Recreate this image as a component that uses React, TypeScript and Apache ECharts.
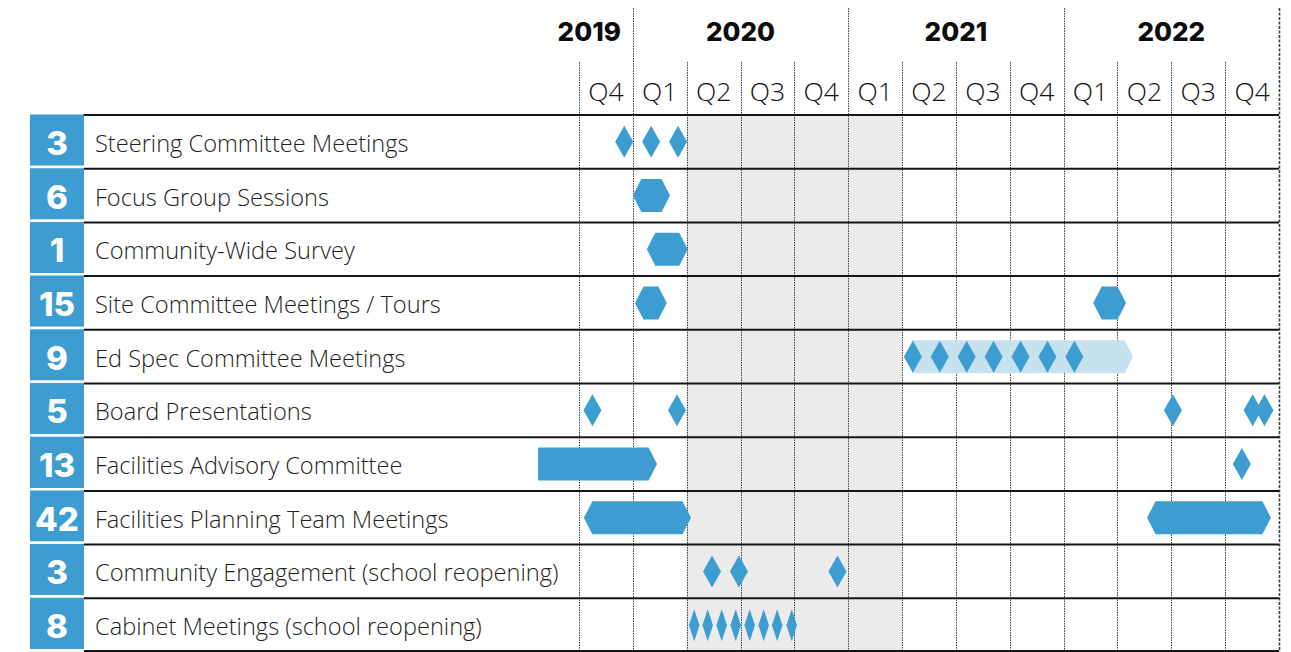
import React, { useEffect, useRef } from "react";
import * as echarts from "echarts";

// ---------- data ----------
const activities = [
  "Steering Committee Meetings",
  "Focus Group Sessions",
  "Community-Wide Survey",
  "Site Committee Meetings / Tours",
  "Ed Spec Committee Meetings",
  "Board Presentations",
  "Facilities Advisory Committee",
  "Facilities Planning Team Meetings",
  "Community Engagement (school reopening)",
  "Cabinet Meetings (school reopening)",
];
const meetingCounts = [3, 6, 1, 15, 9, 5, 13, 42, 3, 8];

// quarter index 0 = Q4 2019 ... 12 = Q4 2022
const quarterLabels = ["Q4", "Q1", "Q2", "Q3", "Q4", "Q1", "Q2", "Q3", "Q4", "Q1", "Q2", "Q3", "Q4"];
const yearLabels = ["2019", "2020", "2021", "2022"];
const yearStarts = [0, 1, 5, 9];
const yearEnds = [1, 5, 9, 13];
const shadedPeriod = [2, 6];

// single meetings: [row, position in quarters]
const meetingDiamonds = [
  [0, 0.84], [0, 1.34], [0, 1.84],
  [4, 6.2], [4, 6.7], [4, 7.2], [4, 7.7], [4, 8.2], [4, 8.7], [4, 9.2],
  [5, 0.25], [5, 1.82], [5, 11.03], [5, 12.51], [5, 12.73],
  [6, 12.31],
  [8, 2.47], [8, 2.97], [8, 4.8],
  [9, 2.14], [9, 2.39], [9, 2.65], [9, 2.91], [9, 3.17], [9, 3.43], [9, 3.68], [9, 3.95],
];
// meeting series: [row, start, end]
const hexSpans = [
  [1, 1.0, 1.69],
  [2, 1.26, 2.02],
  [3, 1.04, 1.63],
  [3, 9.55, 10.16],
  [7, 0.09, 2.08],
  [7, 10.55, 12.85],
];
const arrowSpans = [[6, -0.76, 1.45]];
const plannedSpans = [[4, 6.18, 10.29]];

// ---------- styles ----------
const BLUE = "#3d9dd1";
const LIGHT_BLUE = "#c6e2ef";
const SHADE = "#ebebeb";
const LINE_DARK = "#141414";
const DOT = "#34434e";
const LABEL_FONT = "'Open Sans', sans-serif";
const BOLD_FONT = "Inter, 'Open Sans', sans-serif";
const MARK_H = 33;
const TIP = 8.5;

export default function App() {
  const ref = useRef<HTMLDivElement>(null);

  useEffect(() => {
    if (!ref.current) return;
    const chart = echarts.init(ref.current, undefined, { renderer: "svg" });
    const nRows = activities.length;
    const nQ = quarterLabels.length;

    const bandInfo = (api: any, row: number) => {
      const cy = api.coord([0, row])[1];
      const bh = api.size([0, 1])[1];
      return { cy, bh };
    };

    const option: any = {
      animation: false,
      backgroundColor: "#ffffff",
      grid: { left: 579, right: 12, top: 115, bottom: 0, containLabel: false },
      xAxis: {
        type: "value",
        min: 0,
        max: nQ,
        interval: 1,
        show: false,
      },
      yAxis: {
        type: "category",
        data: activities,
        inverse: true,
        show: false,
      },
      series: [
        // shaded period
        {
          type: "custom",
          z: 1,
          silent: true,
          clip: false,
          data: [[shadedPeriod[0], shadedPeriod[1], 0]],
          encode: { x: [0, 1], y: 2 },
          renderItem: (params: any, api: any) => {
            const x0 = api.coord([api.value(0), 0])[0];
            const x1 = api.coord([api.value(1), 0])[0];
            const { cy: c0, bh } = bandInfo(api, 0);
            const c9 = api.coord([0, nRows - 1])[1];
            return {
              type: "rect",
              shape: { x: x0, y: c0 - bh / 2, width: x1 - x0, height: c9 + bh / 2 - (c0 - bh / 2) },
              style: { fill: SHADE },
            };
          },
        },
        // vertical quarter / year lines
        {
          type: "custom",
          z: 2,
          silent: true,
          clip: false,
          data: Array.from({ length: nQ + 1 }, (_, k) => [k, 0]),
          encode: { x: 0, y: 1 },
          renderItem: (params: any, api: any) => {
            const k = api.value(0);
            const x = Math.round(api.coord([k, 0])[0]) + 0.5;
            const bh = api.size([0, 1])[1];
            const bottom = api.coord([0, nRows - 1])[1] + bh / 2;
            const isYear = yearEnds.indexOf(k) >= 0;
            const isEdge = k === nQ;
            return {
              type: "line",
              shape: { x1: x, y1: isYear ? 8 : 62, x2: x, y2: bottom },
              style: {
                stroke: DOT,
                lineWidth: isEdge ? 1.6 : 1,
                lineDash: isEdge ? [3, 1.5] : [1.5, 1],
              },
            };
          },
        },
        // horizontal row lines
        {
          type: "custom",
          z: 3,
          silent: true,
          clip: false,
          data: Array.from({ length: nRows + 1 }, (_, k) => [0, Math.min(k, nRows - 1), k]),
          encode: { x: 0, y: 1 },
          renderItem: (params: any, api: any) => {
            const k = params.dataIndex;
            const bh = api.size([0, 1])[1];
            const top = api.coord([0, 0])[1] - bh / 2;
            let y = top + k * bh;
            if (k === nRows) y -= 1;
            const xEnd = api.coord([nQ, 0])[0];
            return {
              type: "line",
              shape: { x1: 83, y1: y, x2: xEnd, y2: y },
              style: { stroke: LINE_DARK, lineWidth: 2 },
            };
          },
        },
        // left count boxes and activity labels
        {
          type: "custom",
          z: 4,
          silent: true,
          clip: false,
          data: activities.map((_, i) => [0, i]),
          encode: { x: 0, y: 1 },
          renderItem: (params: any, api: any) => {
            const i = params.dataIndex;
            const { cy, bh } = bandInfo(api, api.value(1));
            const top = cy - bh / 2;
            return {
              type: "group",
              children: [
                {
                  type: "rect",
                  shape: { x: 30, y: top - 0.5, width: 54, height: bh - 2.5 },
                  style: { fill: BLUE },
                },
                {
                  type: "rect",
                  shape: { x: 30, y: top + bh - 3, width: 54, height: 3 },
                  style: { fill: "#ffffff" },
                },
                {
                  type: "text",
                  style: {
                    text: String(meetingCounts[i]),
                    x: 57,
                    y: cy + 1,
                    align: "center",
                    verticalAlign: "middle",
                    fill: "#ffffff",
                    fontFamily: BOLD_FONT,
                    fontWeight: 800,
                    fontSize: 33,
                  },
                },
                {
                  type: "text",
                  style: {
                    text: activities[i],
                    x: 95,
                    y: cy + 1,
                    align: "left",
                    verticalAlign: "middle",
                    fill: "#231f20",
                    fontFamily: LABEL_FONT,
                    fontWeight: 300,
                    fontSize: 23.6,
                  },
                },
              ],
            };
          },
        },
        // quarter labels
        {
          type: "custom",
          z: 4,
          silent: true,
          clip: false,
          data: quarterLabels.map((_, k) => [k + 0.5, 0]),
          encode: { x: 0, y: 1 },
          renderItem: (params: any, api: any) => {
            const x = api.coord([api.value(0), 0])[0];
            return {
              type: "text",
              style: {
                text: quarterLabels[params.dataIndex],
                x: x,
                y: 91,
                align: "center",
                verticalAlign: "middle",
                fill: "#111111",
                fontFamily: LABEL_FONT,
                fontWeight: 300,
                fontSize: 26.5,
              },
            };
          },
        },
        // year labels
        {
          type: "custom",
          z: 4,
          silent: true,
          clip: false,
          data: yearLabels.map((_, k) => [yearStarts[k], yearEnds[k], 0]),
          encode: { x: [0, 1], y: 2 },
          renderItem: (params: any, api: any) => {
            const s = api.value(0);
            const e = api.value(1);
            const xs = api.coord([s, 0])[0];
            const xe = api.coord([e, 0])[0];
            const single = e - s <= 1;
            return {
              type: "text",
              style: {
                text: yearLabels[params.dataIndex],
                x: single ? xe - 12 : (xs + xe) / 2,
                y: 31,
                align: single ? "right" : "center",
                verticalAlign: "middle",
                fill: "#0c0c0c",
                fontFamily: BOLD_FONT,
                fontWeight: 800,
                fontSize: 26,
              },
            };
          },
        },
        // planned (light) span
        {
          type: "custom",
          z: 5,
          silent: true,
          clip: false,
          data: plannedSpans,
          encode: { x: [1, 2], y: 0 },
          renderItem: (params: any, api: any) => {
            const { cy } = bandInfo(api, api.value(0));
            const x0 = api.coord([api.value(1), 0])[0];
            const x1 = api.coord([api.value(2), 0])[0];
            const h = MARK_H / 2;
            return {
              type: "polygon",
              shape: { points: [[x0, cy - h], [x1 - TIP, cy - h], [x1, cy], [x1 - TIP, cy + h], [x0, cy + h]] },
              style: { fill: LIGHT_BLUE },
            };
          },
        },
        // hexagon spans
        {
          type: "custom",
          z: 6,
          silent: true,
          clip: false,
          data: hexSpans,
          encode: { x: [1, 2], y: 0 },
          renderItem: (params: any, api: any) => {
            const { cy } = bandInfo(api, api.value(0));
            const x0 = api.coord([api.value(1), 0])[0];
            const x1 = api.coord([api.value(2), 0])[0];
            const h = MARK_H / 2;
            return {
              type: "polygon",
              shape: {
                points: [
                  [x0, cy], [x0 + TIP, cy - h], [x1 - TIP, cy - h],
                  [x1, cy], [x1 - TIP, cy + h], [x0 + TIP, cy + h],
                ],
              },
              style: { fill: BLUE },
            };
          },
        },
        // arrow spans
        {
          type: "custom",
          z: 6,
          silent: true,
          clip: false,
          data: arrowSpans,
          encode: { x: [1, 2], y: 0 },
          renderItem: (params: any, api: any) => {
            const { cy } = bandInfo(api, api.value(0));
            const x0 = api.coord([api.value(1), 0])[0];
            const x1 = api.coord([api.value(2), 0])[0];
            const h = MARK_H / 2;
            return {
              type: "polygon",
              shape: { points: [[x0, cy - h], [x1 - TIP, cy - h], [x1, cy], [x1 - TIP, cy + h], [x0, cy + h]] },
              style: { fill: BLUE },
            };
          },
        },
        // diamonds
        {
          type: "custom",
          z: 7,
          silent: true,
          clip: false,
          data: meetingDiamonds,
          encode: { x: 1, y: 0 },
          renderItem: (params: any, api: any) => {
            const row = api.value(0);
            const { cy } = bandInfo(api, row);
            const cx = api.coord([api.value(1), 0])[0];
            const w = row === 9 ? 10.5 : 18;
            const h = 32;
            return {
              type: "polygon",
              shape: { points: [[cx, cy - h / 2], [cx + w / 2, cy], [cx, cy + h / 2], [cx - w / 2, cy]] },
              style: { fill: BLUE },
            };
          },
        },
      ],
    };

    chart.setOption(option);
    return () => chart.dispose();
  }, []);

  return (
    <div
      ref={ref}
      style={{ position: "fixed", left: 0, top: 0, width: 1291, height: 652, background: "#fff" }}
    />
  );
}
